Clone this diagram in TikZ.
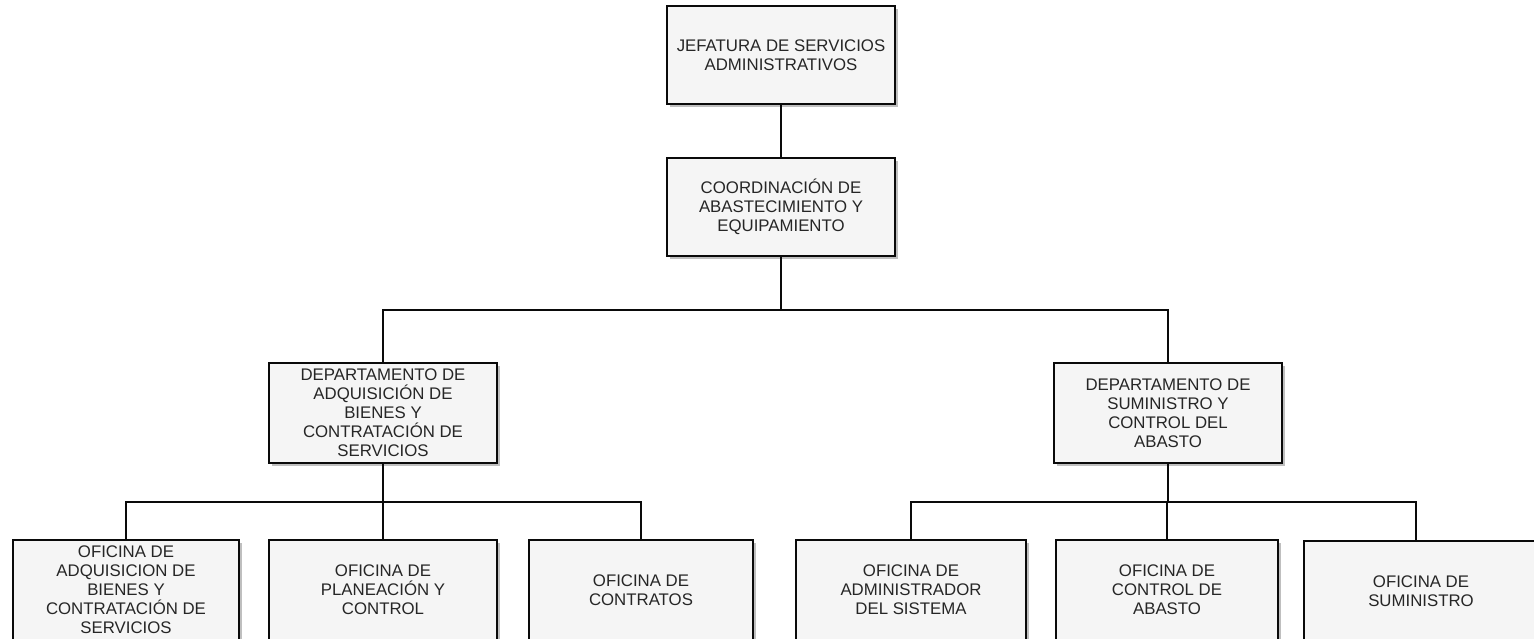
\documentclass[tikz,border=0pt]{standalone}
\usepackage{fontspec}
\setmainfont{Liberation Sans}
\usetikzlibrary{shadows}
\definecolor{boxfill}{HTML}{F5F5F5}
\definecolor{txt}{HTML}{262626}
\definecolor{ln}{HTML}{0A0A0A}
\begin{document}
\begin{tikzpicture}[x=1pt,y=-1pt,
  orgbox/.style={draw=ln, line width=2.8pt, fill=boxfill, text=txt, align=center,
    inner sep=2pt, minimum height=98pt,
    font=\fontsize{16.8}{19}\selectfont,
    drop shadow={shadow xshift=2.5pt, shadow yshift=-3pt, opacity=0.25, fill=black}},
  conn/.style={draw=ln, line width=2.4pt}]
\useasboundingbox (0,0) rectangle (1534,639);
\clip (0,0) rectangle (1534,639);

% nodes
\node[orgbox, minimum width=228pt] (jef) at (781,55) {JEFATURA DE SERVICIOS\\ADMINISTRATIVOS};
\node[orgbox, minimum width=228pt] (coord) at (781,207) {COORDINACIÓN DE\\ABASTECIMIENTO Y\\EQUIPAMIENTO};
\node[orgbox, minimum width=228pt, minimum height=100pt] (dadq) at (383,413) {DEPARTAMENTO DE\\ADQUISICIÓN DE\\BIENES Y\\CONTRATACIÓN DE\\SERVICIOS};
\node[orgbox, minimum width=228pt, minimum height=100pt] (dsum) at (1168,413) {DEPARTAMENTO DE\\SUMINISTRO Y\\CONTROL DEL\\ABASTO};

\node[orgbox, minimum width=226pt, minimum height=100pt] (b1) at (126,590) {OFICINA DE\\ADQUISICION DE\\BIENES Y\\CONTRATACIÓN DE\\SERVICIOS};
\node[orgbox, minimum width=228pt, minimum height=100pt] (b2) at (383,590) {OFICINA DE\\PLANEACIÓN Y\\CONTROL};
\node[orgbox, minimum width=224pt, minimum height=100pt] (b3) at (641,590) {OFICINA DE\\CONTRATOS};
\node[orgbox, minimum width=230pt, minimum height=100pt] (b4) at (911,590) {OFICINA DE\\ADMINISTRADOR\\DEL SISTEMA};
\node[orgbox, minimum width=222pt, minimum height=100pt] (b5) at (1167,590) {OFICINA DE\\CONTROL DE\\ABASTO};
\node[orgbox, minimum width=234pt, minimum height=100pt] (b6) at (1421,591) {OFICINA DE\\SUMINISTRO};

% bus coordinates
\coordinate (busT) at (781,310);
\coordinate (busL) at (383,502);
\coordinate (busR) at (1167,502);
\coordinate (c6) at (1416,502);

% connectors
\draw[conn] (jef.south) -- (coord.north);
\draw[conn] (coord.south) -- (busT);
\draw[conn] (dadq.north) -- (dadq.north |- busT) -- (dsum.north |- busT) -- (dsum.north);

\draw[conn] (dadq.south) -- (busL);
\draw[conn] (b1.north) -- (b1.north |- busL) -- (b3.north |- busL) -- (b3.north);
\draw[conn] (b2.north) -- (b2.north |- busL);

\draw[conn] (dsum.south) -- (dsum.south |- busR);
\draw[conn] (b4.north) -- (b4.north |- busR) -- (c6) -- (c6 |- b6.north);
\draw[conn] (b5.north) -- (b5.north |- busR);
\end{tikzpicture}
\end{document}
